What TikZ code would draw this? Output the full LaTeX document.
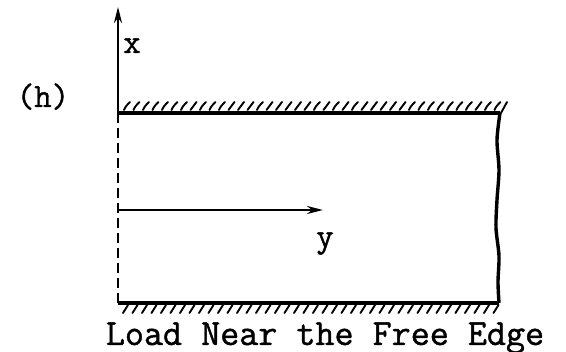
\documentclass[tikz,border=0pt]{standalone}
\usepackage{fontspec}
\newfontfamily\twfont[FakeBold=1.2]{Latin Modern Mono}
\usetikzlibrary{arrows.meta}
\begin{document}
\begin{tikzpicture}[x=1pt,y=-1pt,
  edge/.style={line width=3.4pt},
  hatch/.style={line width=1.9pt,line cap=round},
  dashedge/.style={line width=2.6pt,dash pattern=on 10pt off 5pt},
  axis/.style={line width=2.8pt,-{Stealth[length=16pt,width=8pt]}},
  lbl/.style={font=\fontsize{34}{34}\selectfont\twfont,inner sep=0pt},
  captxt/.style={font=\fontsize{37}{37}\selectfont\twfont,inner sep=0pt}]
\useasboundingbox (0,0) rectangle (566,352);
\coordinate (TL) at (118,113);
\coordinate (TR) at (500,113);
\coordinate (BL) at (118,303);
\coordinate (BR) at (499,303);
\coordinate (Xtip) at (118,7);
\coordinate (Y0) at (118,210);
\coordinate (Ytip) at (323,210);
% edges
\draw[edge] (TL) -- (TR);
\draw[edge] (BL) -- (BR);
\draw[dashedge] (TL) -- (BL);
\draw[edge] plot[smooth] coordinates {(500,113) (497,140) (499,170) (497,200) (496,228) (499,256) (498,282) (499,303)};
% hatching
\foreach \h in {124,133.5,...,500} \draw[hatch] (\h,110) .. controls (\h+2,106) .. (\h+6,102);
\draw[hatch] (507,102) .. controls (504,108) .. (501,113);
\foreach \h in {124,133.5,...,500} \draw[hatch] (\h-1,313) -- (\h+4,305);
% axes
\draw[axis] (TL) -- (Xtip);
\draw[axis] (Y0) -- (Ytip);
% labels
\node[lbl,anchor=base] (xl) at (132,53) {x};
\node[lbl,anchor=base] (yl) at (325,247) {y};
\node[lbl,anchor=base] (hl) at (43,107) {(h)};
\node[captxt,anchor=base] (caption) at (325,345) {Load Near the Free Edge};
\end{tikzpicture}
\end{document}
